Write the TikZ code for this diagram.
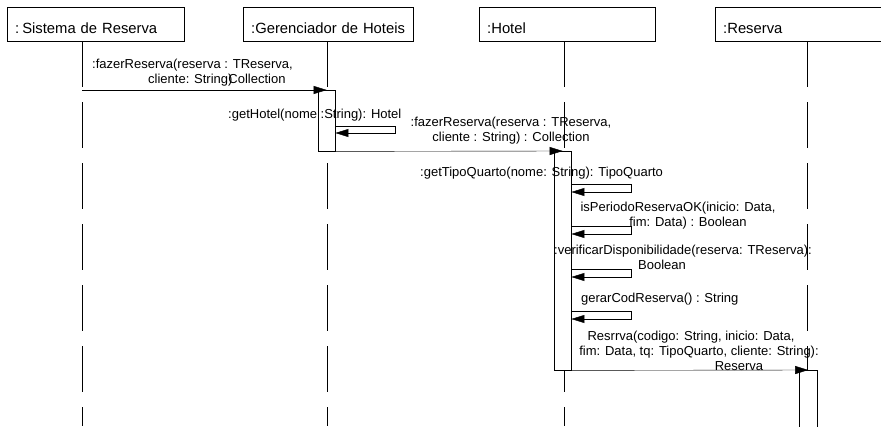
\documentclass[tikz,border=0pt]{standalone}
\usepackage{fontspec}
\setmainfont{Liberation Sans}
\usetikzlibrary{arrows.meta}

\tikzset{
  head/.style={draw, anchor=north west, minimum height=34pt, inner xsep=8pt,
    text height=18pt, text depth=0pt, align=left, font=\fontsize{14.8}{17}\selectfont},
  life/.style={dash pattern=on 46pt off 15pt},
  act/.style={draw, fill=white, anchor=north west, minimum width=17pt, inner sep=0pt},
  msg/.style={-{Triangle[length=13pt,width=8pt]}},
  lbl/.style={font=\fontsize{13}{15}\selectfont, inner sep=0pt, align=center, anchor=base},
}

\begin{document}
\begin{tikzpicture}[x=1pt,y=-1pt]
\useasboundingbox (0,0) rectangle (881,426);

% objects
\node[head, text width=161pt] (sis) at (7,7) {:\kern3pt Sistema de Reserva};
\node[head, text width=154pt] (ger) at (243,7) {:Gerenciador de Hoteis};
\node[head, text width=160pt] (hot) at (479,7) {:Hotel};
\node[head, text width=169pt] (res) at (715,7) {:Reserva};

% lifelines
\draw[life] (82,41) -- (82,426);
\draw[life] (327,41) -- (327,426);
\draw[life] (564,41) -- (564,426);
\draw[life] (807,41) -- (807,426);

% activations
\node[act, minimum height=61pt] (actG) at (318,90) {};
\node[act, minimum height=219pt] (actH) at (554,151) {};
\node[act, minimum width=18pt, minimum height=60pt] (actR) at (799,370) {};

% messages
\coordinate (s1) at (82,90);
\draw[msg] (s1) -- (actG.north);
\draw[msg] (actG.south east) -- (actH.north);
\draw[msg] (actH.south east) -- (actR.north);

\draw[msg] ([yshift=-36pt]actG.north east) -- ++(60,0) -- ++(0,7) -- ++(-60,0);
\foreach \y in {33,75,118,160}
  \draw[msg] ([yshift=-\y pt]actH.north east) -- ++(60,0) -- ++(0,8) -- ++(-60,0);

% labels (base = last line)
\node[lbl, align=left, anchor=base west] (l1) at (92,83)
  {:fazerReserva(reserva : TReserva,\\\hspace*{56pt}cliente: String)\kern-4pt Collection};
\node[lbl, anchor=base west] (l2) at (228,118) {:getHotel(nome :String): Hotel};
\node[lbl] (l3) at (511,141) {:fazerReserva(reserva : TReserva,\\cliente : String) : Collection};
\node[lbl, anchor=base west] (l4) at (420,176) {:getTipoQuarto(nome: String): TipoQuarto};
\node[lbl] (l5) at (678,226) {isPeriodoReservaOK(inicio: Data,\\\hspace*{20pt}fim: Data) : Boolean};
\node[lbl] (l6) at (683,269) {:verificarDisponibilidade(reserva: TReserva):\\\hspace*{-42pt}Boolean};
\node[lbl, anchor=base west] (l7) at (581,302) {gerarCodReserva() : String};
\node[lbl] (l8) at (699,370)
  {\hspace*{-16pt}Resrrva(codigo: String, inicio: Data,\\fim: Data, tq: TipoQuarto, cliente: String):\\\hspace*{80pt}Reserva};
\end{tikzpicture}
\end{document}
